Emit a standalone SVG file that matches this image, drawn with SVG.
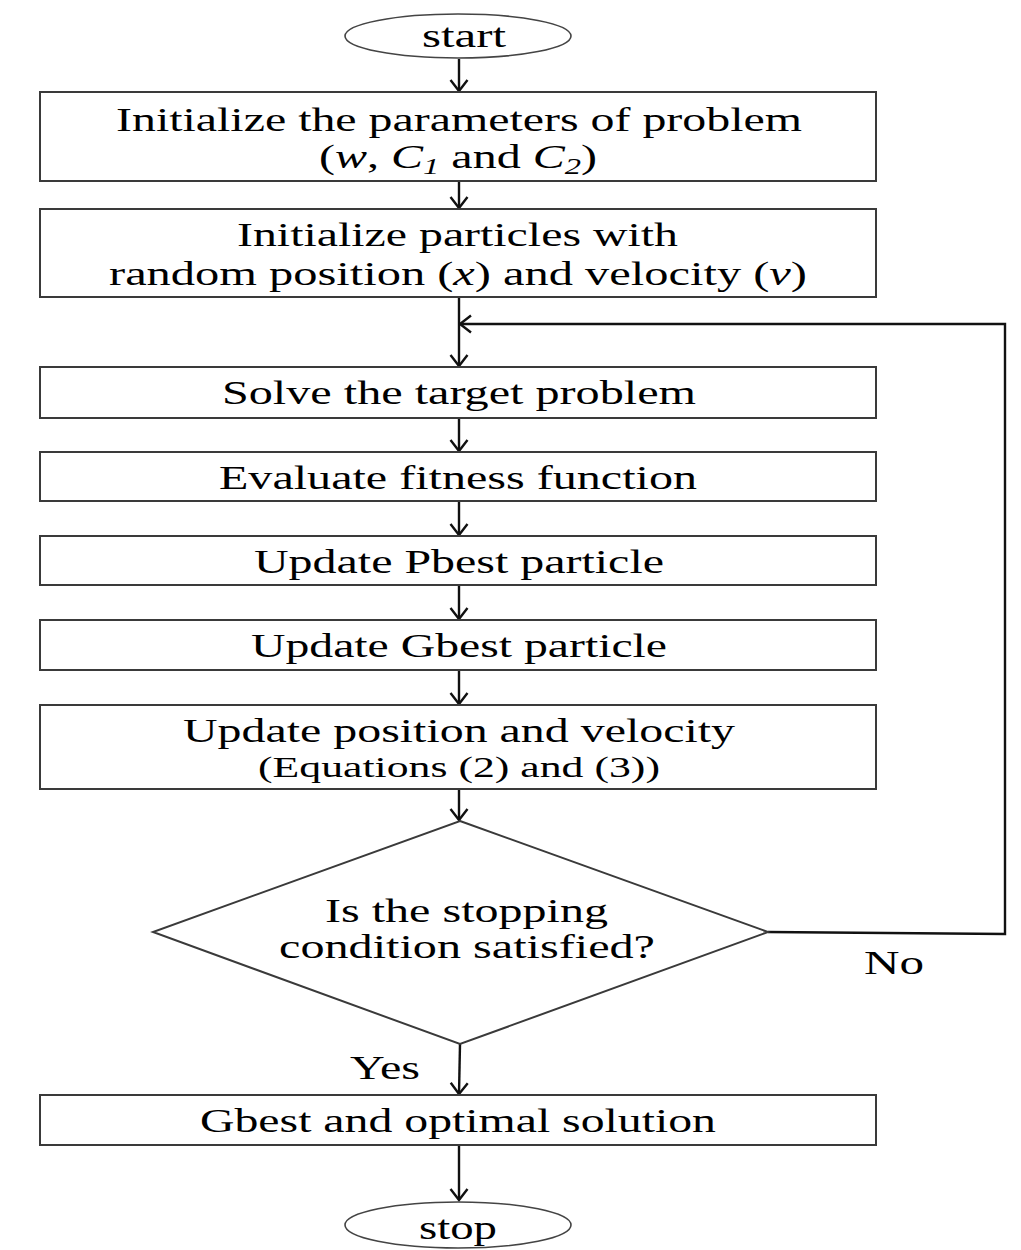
<svg xmlns="http://www.w3.org/2000/svg" width="1021" height="1250" viewBox="0 0 1021 1250">
<style>
.box{fill:#fff;stroke:#3a3a3a;stroke-width:2}
.term{fill:#fff;stroke:#444;stroke-width:1.6}
.t{font-family:"Liberation Serif","Times New Roman",serif;font-size:34px;fill:#000;text-anchor:start}
.s{font-size:29px}
.i{font-style:italic}
.c{fill:none;stroke:#111;stroke-width:2.4}
</style>
<defs>
<marker id="arr" viewBox="-13 -10 15 20" refX="0" refY="0" markerWidth="15" markerHeight="20" markerUnits="userSpaceOnUse" orient="auto">
<path d="M-11,-8.5 L0,0 L-11,8.5" fill="none" stroke="#111" stroke-width="2.4"/>
</marker>
</defs>
<rect width="1021" height="1250" fill="#fff"/>

<g id="connectors">
<line class="c" x1="459" y1="59" x2="459" y2="91" marker-end="url(#arr)"/>
<line class="c" x1="459" y1="181" x2="459" y2="208" marker-end="url(#arr)"/>
<line class="c" x1="459" y1="297" x2="459" y2="366" marker-end="url(#arr)"/>
<polyline class="c" points="768,932 1005,934 1005,324 460,324" marker-end="url(#arr)"/>
<line class="c" x1="459" y1="418" x2="459" y2="451" marker-end="url(#arr)"/>
<line class="c" x1="459" y1="501" x2="459" y2="535" marker-end="url(#arr)"/>
<line class="c" x1="459" y1="585" x2="459" y2="619" marker-end="url(#arr)"/>
<line class="c" x1="459" y1="670" x2="459" y2="704" marker-end="url(#arr)"/>
<line class="c" x1="459" y1="789" x2="459" y2="820" marker-end="url(#arr)"/>
<line class="c" x1="460" y1="1044" x2="459" y2="1094" marker-end="url(#arr)"/>
<line class="c" x1="459" y1="1145" x2="459" y2="1200" marker-end="url(#arr)"/>
</g>

<g id="start">
<ellipse class="term" cx="458" cy="36" rx="113" ry="22"/>
<text class="t" x="422" y="47" textLength="84" lengthAdjust="spacingAndGlyphs">start</text>
</g>

<g id="init-params">
<rect class="box" x="40" y="92" width="836" height="89"/>
<text class="t" x="116" y="131" textLength="686" lengthAdjust="spacingAndGlyphs">Initialize the parameters of problem</text>
<text class="t" x="319" y="168" textLength="278" lengthAdjust="spacingAndGlyphs">(<tspan class="i">w</tspan>, <tspan class="i">C</tspan><tspan class="i" font-size="23" dy="6">1</tspan><tspan dy="-6"> and </tspan><tspan class="i">C</tspan><tspan class="i" font-size="23" dy="6">2</tspan><tspan dy="-6">)</tspan></text>
</g>

<g id="init-particles">
<rect class="box" x="40" y="209" width="836" height="88"/>
<text class="t" x="237" y="246" textLength="441" lengthAdjust="spacingAndGlyphs">Initialize particles with</text>
<text class="t" x="109" y="285" textLength="698" lengthAdjust="spacingAndGlyphs">random position (<tspan class="i">x</tspan>) and velocity (<tspan class="i">v</tspan>)</text>
</g>

<g id="solve">
<rect class="box" x="40" y="367" width="836" height="51"/>
<text class="t" x="222" y="404" textLength="474" lengthAdjust="spacingAndGlyphs">Solve the target problem</text>
</g>

<g id="evaluate">
<rect class="box" x="40" y="452" width="836" height="49"/>
<text class="t" x="219" y="489" textLength="478" lengthAdjust="spacingAndGlyphs">Evaluate fitness function</text>
</g>

<g id="pbest">
<rect class="box" x="40" y="536" width="836" height="49"/>
<text class="t" x="254" y="573" textLength="410" lengthAdjust="spacingAndGlyphs">Update Pbest particle</text>
</g>

<g id="gbest">
<rect class="box" x="40" y="620" width="836" height="50"/>
<text class="t" x="251" y="657" textLength="416" lengthAdjust="spacingAndGlyphs">Update Gbest particle</text>
</g>

<g id="update">
<rect class="box" x="40" y="705" width="836" height="84"/>
<text class="t" x="183" y="742" textLength="552" lengthAdjust="spacingAndGlyphs">Update position and velocity</text>
<text class="t s" x="258" y="777" textLength="402" lengthAdjust="spacingAndGlyphs">(Equations (2) and (3))</text>
</g>

<g id="decision">
<polygon class="box" points="460,821 768,932 460,1044 153,932"/>
<text class="t" x="325" y="922" textLength="283" lengthAdjust="spacingAndGlyphs">Is the stopping</text>
<text class="t" x="279" y="958" textLength="376" lengthAdjust="spacingAndGlyphs">condition satisfied?</text>
</g>

<g id="labels">
<text class="t" x="864" y="974" textLength="60" lengthAdjust="spacingAndGlyphs">No</text>
<text class="t" x="350" y="1079" textLength="70" lengthAdjust="spacingAndGlyphs">Yes</text>
</g>

<g id="result">
<rect class="box" x="40" y="1095" width="836" height="50"/>
<text class="t" x="200" y="1132" textLength="516" lengthAdjust="spacingAndGlyphs">Gbest and optimal solution</text>
</g>

<g id="stop">
<ellipse class="term" cx="458" cy="1225" rx="113" ry="23"/>
<text class="t" x="419" y="1239" textLength="78" lengthAdjust="spacingAndGlyphs">stop</text>
</g>
</svg>
